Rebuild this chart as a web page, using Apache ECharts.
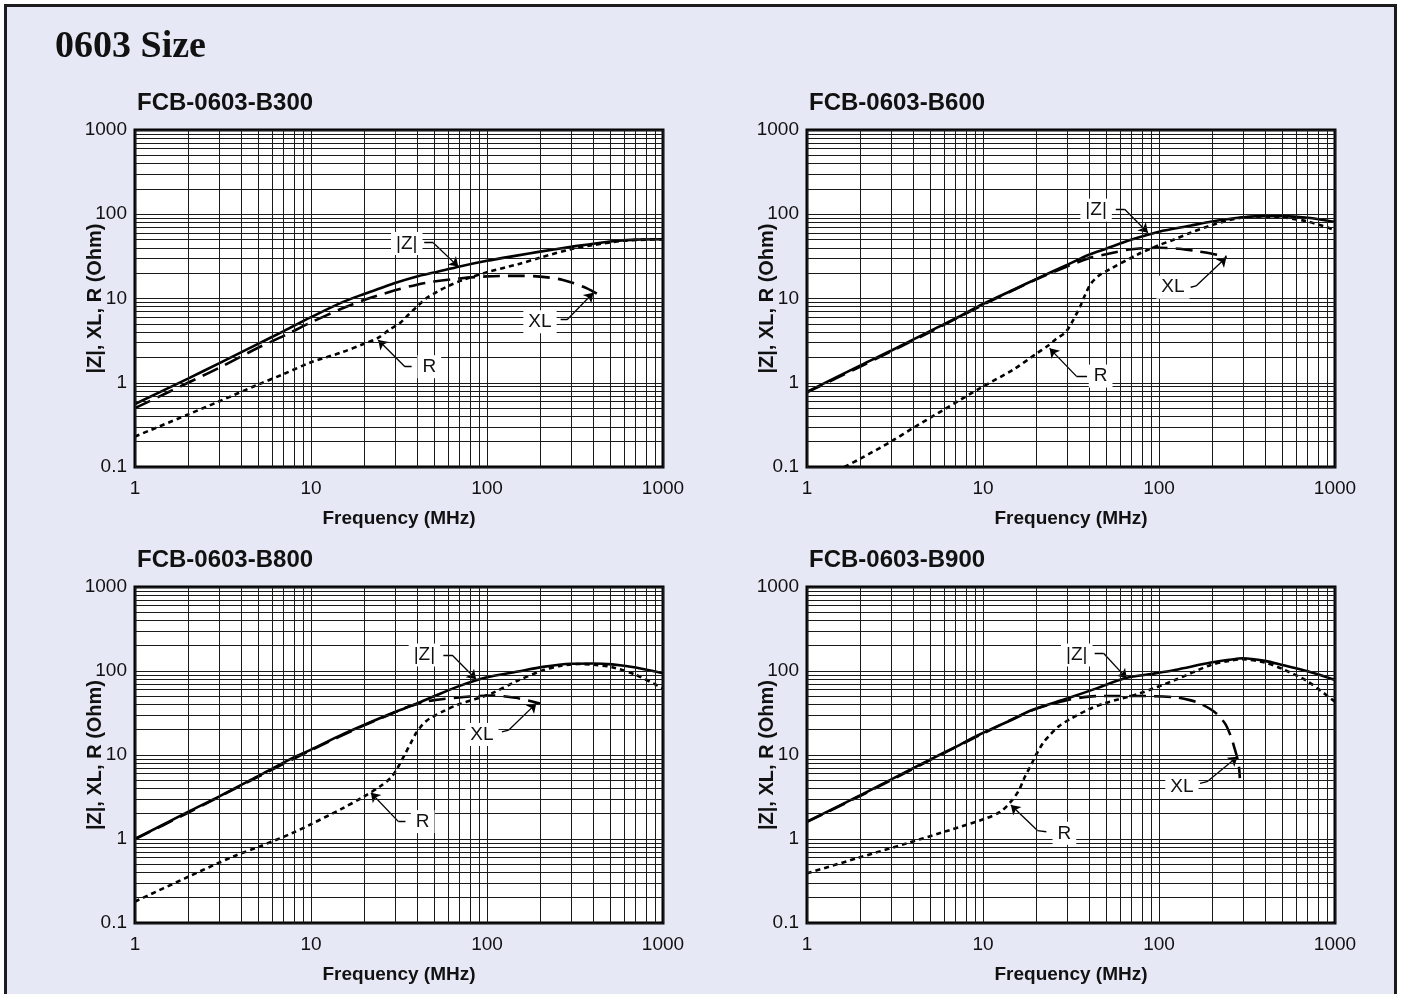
<!DOCTYPE html>
<html><head><meta charset="utf-8">
<script src="https://cdn.jsdelivr.net/npm/echarts@6/dist/echarts.min.js"></script>
<style>
html,body{margin:0;padding:0;background:#fff;width:1401px;height:994px;overflow:hidden}
#frame{position:absolute;left:4px;top:4px;width:1387px;height:1000px;border:3px solid #1c1c1c;background:#E6E8F5}
#chart{position:absolute;left:0;top:0;width:1401px;height:994px}
</style></head><body><div id="frame"></div><div id="chart"></div>
<script>
// ---- tick / grid values ----
const xTicks = [1, 10, 100, 1000];
const yTicks = [0.1, 1, 10, 100, 1000];
const gridX = [1,2,3,4,5,6,7,8,9,10,20,30,40,50,60,70,80,90,100,200,300,400,500,600,700,800,900,1000];
const gridY = [0.1,0.2,0.3,0.4,0.5,0.6,0.7,0.8,0.9,1,2,3,4,5,6,7,8,9,10,20,30,40,50,60,70,80,90,100,200,300,400,500,600,700,800,900,1000];

// ---- titles ----
const mainTitle = '0603 Size';
const panelTitles = ['FCB-0603-B300', 'FCB-0603-B600', 'FCB-0603-B800', 'FCB-0603-B900'];

// ---- FCB-0603-B300 ----
const b300_Z  = [[1,0.56],[2,1.12],[3,1.7],[5,2.9],[7,4.1],[10,6.0],[15,9.0],[20,11.3],[25,13.3],[30,15.3],[40,18.3],[50,20.3],[70,24],[100,28],[150,32.5],[200,36],[300,41],[500,47.5],[700,50],[1000,50.5]];
const b300_XL = [[1,0.5],[2,1.0],[3,1.5],[5,2.6],[7,3.6],[10,5.2],[15,7.6],[20,9.6],[30,12.5],[40,14.6],[50,15.9],[70,17.3],[100,18.3],[150,18.6],[200,18.2],[270,16.6],[370,13.2],[458,10.2]];
const b300_R  = [[1,0.23],[2,0.42],[3,0.6],[5,0.95],[7,1.27],[10,1.75],[15,2.3],[20,2.9],[24,3.4],[28,4.3],[32,5.1],[36,6.5],[40,8.0],[45,10],[52,12],[60,14],[73,16.6],[100,20.5],[150,25.5],[200,30.5],[300,38.5],[400,43],[600,48.5],[1000,50.5]];
const b300_labels  = [['|Z|',35,45],['XL',200,5.3],['R',47,1.55]];
const b300_leaders = [[[44,46],[49.5,46],[68.7,23.9]],[[262,5.6],[285,5.6],[402,11.7]],[[37.3,1.55],[34.2,1.55],[24.1,3.22]]];

// ---- FCB-0603-B600 ----
const b600_Z  = [[1,0.78],[2,1.6],[3,2.4],[5,4.1],[7,5.8],[10,8.6],[15,12.8],[20,17],[30,25],[40,33],[50,39],[70,50],[100,62],[150,73],[200,82],[300,92],[400,95],[500,95],[700,91],[1000,81]];
const b600_XL = [[1,0.77],[2,1.55],[5,4.0],[10,8.4],[20,16.8],[30,24],[40,30],[50,33.5],[70,38.5],[100,40],[130,39],[170,36],[200,34],[242,31]];
const b600_R  = [[1.63,0.1],[2,0.125],[3,0.2],[4,0.29],[6,0.48],[9.6,0.86],[15,1.45],[20,2.2],[23.4,2.75],[26,3.3],[29.5,4.0],[32,5.2],[35.6,8],[38,11],[41,15],[46,19],[52,22],[75,33],[100,43],[120,49.5],[150,60],[191,72],[250,85],[305,92],[400,94],[500,92],[700,82],[1000,65]];
const b600_labels  = [['|Z|',43.9,112],['XL',120,13.6],['R',46.6,1.2]];
const b600_leaders = [[[56.8,114.5],[63.8,114.5],[86.5,60.4]],[[151.4,13.6],[162.3,14.1],[241.6,30.8]],[[39,1.2],[33.9,1.2],[23.9,2.56]]];

// ---- FCB-0603-B800 ----
const b800_Z  = [[1,1.0],[2,2.1],[3,3.2],[5,5.6],[7.78,9.1],[10,11.6],[15,17.5],[20,22.8],[30,32.5],[40,41],[50,50],[70,66.5],[100,84],[150,98.5],[208,112],[300,122],[400,123],[513,120],[700,110],[1000,94]];
const b800_XL = [[1,1.0],[2,2.05],[5,5.5],[10,11.4],[20,22.5],[28.7,31],[35,37],[43,42],[50,45],[74,49],[106,51],[145,48],[200,41]];
const b800_R  = [[1,0.18],[1.92,0.34],[3.62,0.62],[5,0.8],[7.78,1.17],[10,1.5],[15,2.3],[20,3.2],[25,4.3],[28.7,5.5],[31,7],[34.4,10.5],[37,14],[39.4,18],[43,23],[47,27],[57,33.5],[67.6,39.4],[85,46],[106,54],[150,77],[208,102],[260,115],[327,121],[400,119],[513,111],[700,90],[1000,62]];
const b800_labels  = [['|Z|',44.1,155],['XL',93.5,17.6],['R',43.1,1.61]];
const b800_leaders = [[[56.5,155],[63.3,155],[86.7,79.6]],[[121.5,18.9],[133,19.8],[190.6,41.2]],[[34.4,1.61],[31.4,1.61],[21.9,3.56]]];

// ---- FCB-0603-B900 ----
const b900_Z  = [[1,1.61],[2,3.3],[2.94,5.0],[5,8.8],[7,12.5],[9.44,17.3],[15,27],[19,34.3],[30.3,47.3],[45,63],[64,81.9],[90,92],[123,103],[197,126],[250,136],[300,141.7],[400,132],[501,118],[700,99],[1000,78]];
const b900_XL = [[1,1.6],[2,3.25],[5,8.7],[10,18],[19,34],[30,45],[40,49.5],[48.5,50.4],[77.5,50.4],[123,48.6],[150,45],[171,41],[206,32.8],[237,23.8],[255,17],[267,12.6],[283,7.95],[288,5.3]];
const b900_R  = [[1,0.39],[1.92,0.59],[3.7,0.89],[6.5,1.28],[10.4,1.76],[12.5,2.1],[14.4,2.78],[16,3.8],[17.3,5.5],[18.7,7.5],[20,10],[22,14],[24,17.3],[27,22],[31.8,27.3],[40,35],[48.5,41],[77.5,54],[123,78],[197,118],[250,132],[300,138],[400,126],[501,106],[700,75],[1000,43]];
const b900_labels  = [['|Z|',34.1,155],['XL',135,4.2],['R',29,1.17]];
const b900_leaders = [[[43.1,162.5],[48.4,162.5],[65.6,81.8]],[[171,4.6],[187.5,4.81],[279,9.55]],[[22.9,1.22],[20.4,1.26],[14.4,2.54]]];

// ---- layout ----
const FONT = "'Liberation Sans', Arial, Helvetica, sans-serif";
const panels = [
  {left:135, top:130, height:337, Z:b300_Z, XL:b300_XL, R:b300_R, labels:b300_labels, leaders:b300_leaders},
  {left:807, top:130, height:337, Z:b600_Z, XL:b600_XL, R:b600_R, labels:b600_labels, leaders:b600_leaders},
  {left:135, top:587, height:336, Z:b800_Z, XL:b800_XL, R:b800_R, labels:b800_labels, leaders:b800_leaders},
  {left:807, top:587, height:336, Z:b900_Z, XL:b900_XL, R:b900_R, labels:b900_labels, leaders:b900_leaders}
];
const W = 528;

const fmt = v => String(+(+v).toPrecision(6));

const option = {
  animation: false,
  textStyle: {fontFamily: FONT},
  title: [{text: mainTitle, left: 55, top: 28, padding: 0,
           textStyle: {fontFamily: "'Liberation Serif', 'DejaVu Serif', serif", fontWeight: 'bold', fontSize: 38, color: '#111'}}]
    .concat(panels.map((p, i) => ({text: panelTitles[i], left: p.left + 2, top: p.top - 39, padding: 0,
           textStyle: {fontFamily: FONT, fontWeight: 'bold', fontSize: 24, color: '#111'}}))),
  grid: panels.map(p => ({left: p.left, top: p.top, width: W, height: p.height, show: true,
           backgroundColor: '#fff', borderColor: '#000', borderWidth: 3, containLabel: false})),
  xAxis: panels.map((p, i) => ({
    type: 'log', logBase: 10, min: 1, max: 1000, gridIndex: i, splitNumber: 3,
    axisLine: {show: false}, axisTick: {show: false}, splitLine: {show: false},
    axisLabel: {fontSize: 19, color: '#111', margin: 12, formatter: fmt, fontFamily: FONT},
    name: 'Frequency (MHz)', nameLocation: 'middle', nameGap: 42, nameMoveOverlap: false,
    nameTextStyle: {fontSize: 19, fontWeight: 'bold', color: '#111', fontFamily: FONT}
  })),
  yAxis: panels.map((p, i) => ({
    type: 'log', logBase: 10, min: 0.1, max: 1000, gridIndex: i, splitNumber: 4,
    axisLine: {show: false}, axisTick: {show: false}, splitLine: {show: false},
    axisLabel: {fontSize: 19, color: '#111', margin: 8, formatter: fmt, fontFamily: FONT},
    name: '|Z|, XL, R (Ohm)', nameLocation: 'middle', nameGap: 30, nameMoveOverlap: false,
    nameTextStyle: {fontSize: 20, fontWeight: 'bold', color: '#111', fontFamily: FONT}
  })),
  series: []
};

panels.forEach((p, i) => {
  const ax = {xAxisIndex: i, yAxisIndex: i};
  // grid lines
  option.series.push(Object.assign({
    type: 'line', data: [[1, 1]], symbol: 'none', lineStyle: {width: 0}, z: 1, silent: true,
    markLine: {
      silent: true, symbol: 'none', animation: false,
      label: {show: false}, emphasis: {disabled: true},
      lineStyle: {color: '#1a1a1a', width: 1, type: 'solid'},
      data: gridX.map(v => ({xAxis: v})).concat(gridY.map(v => ({yAxis: v})))
    }
  }, ax));
  // curves
  const curve = (data, type) => Object.assign({
    type: 'line', data: data, symbol: 'none', smooth: 0.3, z: 3, silent: true,
    lineStyle: {color: '#000', width: 2.6, type: type}
  }, ax);
  option.series.push(curve(p.Z, 'solid'));
  option.series.push(curve(p.XL, [17, 8]));
  option.series.push(curve(p.R, [5, 4]));
  // leaders
  option.series.push(Object.assign({
    type: 'lines', coordinateSystem: 'cartesian2d', z: 4, silent: true,
    symbol: ['none', 'none'],
    lineStyle: {color: '#000', width: 1.3, opacity: 1, curveness: 0},
    data: p.leaders.map(l => ({coords: [l[0], l[1]]}))
  }, ax));
  option.series.push(Object.assign({
    type: 'lines', coordinateSystem: 'cartesian2d', z: 4, silent: true,
    symbol: ['none', 'arrow'], symbolSize: 9,
    lineStyle: {color: '#000', width: 1.3, opacity: 1, curveness: 0},
    data: p.leaders.map(l => ({coords: [l[1], l[2]]}))
  }, ax));
  // labels
  option.series.push(Object.assign({
    type: 'scatter', z: 5, silent: true, symbolSize: 2,
    itemStyle: {color: 'rgba(255,255,255,0)', opacity: 1},
    data: p.labels.map(l => ({name: l[0], value: [l[1], l[2]]})),
    labelLayout: {hideOverlap: false},
    label: {show: true, position: 'inside', formatter: '{b}', color: '#111', fontSize: 19,
            fontFamily: FONT, backgroundColor: '#fff', padding: [2, 5], opacity: 1}
  }, ax));
});

const chart = echarts.init(document.getElementById('chart'), null, {renderer: 'canvas'});
chart.setOption(option);
</script></body></html>
